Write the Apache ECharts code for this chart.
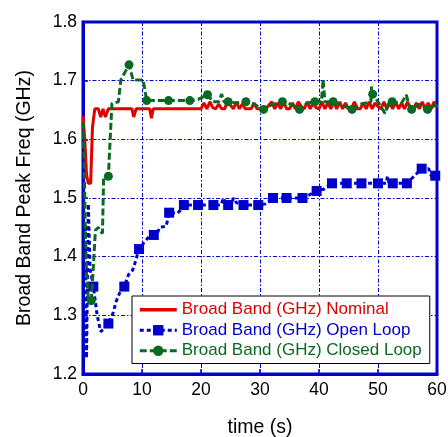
<!DOCTYPE html>
<html>
<head>
<meta charset="utf-8">
<script src="https://cdn.jsdelivr.net/npm/echarts@6/dist/echarts.min.js"></script>
<style>
  html, body { margin: 0; padding: 0; background: #ffffff; }
  #chart { width: 448px; height: 437px; }
</style>
</head>
<body>
<div id="chart"></div>
<script>
// Broad band peak frequency vs. time for three control modes

const xTicks = [0, 10, 20, 30, 40, 50, 60];
const yTicks = [1.2, 1.3, 1.4, 1.5, 1.6, 1.7, 1.8];

const seriesNames = [
  'Broad Band (GHz) Nominal',
  'Broad Band (GHz) Open Loop',
  'Broad Band (GHz) Closed Loop'
];

// Nominal (no markers)
const nominalT = [0.0, 0.3, 0.6, 0.9, 1.3, 1.6, 2.0, 2.6, 3.0, 3.4, 3.8, 4.3, 8.3, 8.6, 9.0, 11.3, 11.6, 11.9,
  20.0, 20.5, 21.0, 21.5, 22.0, 22.5, 23.0, 23.5, 24.0, 24.5, 25.0, 25.5, 26.0, 26.5, 27.0, 27.5, 28.0, 28.5,
  29.0, 29.5, 30.0, 30.5, 31.0, 31.5, 32.0, 32.5, 33.0, 33.5, 34.0, 34.5, 35.0, 35.5, 36.0, 36.5, 37.0, 37.5,
  38.0, 38.5, 39.0, 39.5, 40.0, 40.5, 41.0, 41.5, 42.0, 42.5, 43.0, 43.5, 44.0, 44.5, 45.0, 45.5, 46.0, 46.5,
  47.0, 47.5, 48.0, 48.5, 49.0, 49.5, 50.0, 50.5, 51.0, 51.5, 52.0, 52.5, 53.0, 53.5, 54.0, 54.5, 55.0, 55.5,
  56.0, 56.5, 57.0, 57.5, 58.0, 58.5, 59.0, 59.5, 60.0];
const nominalV = [1.640, 1.600, 1.540, 1.525, 1.525, 1.620, 1.652, 1.652, 1.638, 1.652, 1.638, 1.652, 1.652, 1.638, 1.652, 1.652, 1.636, 1.652,
  1.652, 1.662, 1.652, 1.664, 1.654, 1.652, 1.660, 1.652, 1.652, 1.664, 1.658, 1.652, 1.664, 1.652, 1.660, 1.652, 1.652, 1.652,
  1.662, 1.652, 1.652, 1.652, 1.652, 1.658, 1.664, 1.652, 1.662, 1.652, 1.664, 1.652, 1.652, 1.662, 1.652, 1.664, 1.656, 1.652,
  1.664, 1.652, 1.662, 1.654, 1.652, 1.664, 1.652, 1.662, 1.652, 1.664, 1.652, 1.664, 1.652, 1.662, 1.652, 1.652, 1.664, 1.652,
  1.652, 1.662, 1.652, 1.664, 1.652, 1.662, 1.656, 1.652, 1.664, 1.652, 1.662, 1.652, 1.664, 1.652, 1.662, 1.652, 1.664, 1.652,
  1.652, 1.662, 1.652, 1.664, 1.652, 1.662, 1.652, 1.664, 1.654];

// Open loop (1 = square marker drawn)
const openT = [0.4, 0.6, 0.9, 1.2, 1.75, 2.4, 3.0, 3.6, 4.3, 5.1, 5.6, 6.2, 7.0, 7.7, 8.4, 8.8, 9.5, 10.5, 11.2, 12.0,
  12.6, 13.0, 14.1, 14.6, 16.0, 16.7, 17.1, 18.3, 19.5, 20.8, 22.1, 23.4, 23.8, 24.2, 24.6, 25.2, 25.5, 26.0, 27.2,
  28.5, 29.7, 31.0, 31.5, 32.2, 34.5, 37.2, 38.3, 39.6, 40.8, 42.2, 44.7, 47.2, 50.0, 51.4, 51.6, 51.9, 52.5, 54.9,
  56.3, 57.4, 58.6, 59.0, 59.7];
const openV = [1.450, 1.227, 1.490, 1.380, 1.349, 1.300, 1.272, 1.278, 1.286, 1.304, 1.323, 1.338, 1.349, 1.369, 1.377, 1.389, 1.413, 1.426, 1.434, 1.437,
  1.440, 1.450, 1.452, 1.475, 1.474, 1.481, 1.488, 1.488, 1.488, 1.488, 1.488, 1.488, 1.500, 1.490, 1.488, 1.490, 1.500, 1.492, 1.488,
  1.488, 1.488, 1.490, 1.494, 1.500, 1.500, 1.500, 1.505, 1.512, 1.515, 1.525, 1.525, 1.525, 1.525, 1.525, 1.537, 1.525, 1.525, 1.525,
  1.539, 1.550, 1.550, 1.538, 1.538];
const openMarked = [0, 0, 0, 0, 1, 0, 0, 0, 1, 0, 0, 0, 1, 0, 0, 0, 1, 0, 0, 1,
  0, 0, 0, 1, 0, 0, 1, 0, 1, 0, 1, 0, 0, 0, 1, 0, 0, 0, 1,
  0, 1, 0, 0, 1, 1, 1, 0, 1, 0, 1, 1, 1, 1, 0, 0, 0, 1, 1,
  0, 1, 0, 0, 1];

// Closed loop (1 = circle marker drawn)
const closedT = [0.0, 0.2, 0.4, 0.6, 0.9, 1.4, 1.8, 2.1, 2.6, 2.9, 3.3, 3.5, 4.3, 4.9, 6.0, 6.4, 7.8, 8.5, 10.2, 10.8,
  12.6, 14.5, 16.3, 18.1, 19.5, 21.1, 22.0, 23.0, 23.5, 23.9, 24.6, 26.0, 27.6, 29.0, 30.6, 32.2, 33.8, 35.2, 36.7,
  38.0, 39.3, 40.4, 40.7, 41.0, 42.4, 44.0, 45.6, 47.0, 48.8, 48.9, 49.1, 50.0, 51.2, 51.7, 52.4, 54.0, 54.8, 55.2,
  55.7, 57.0, 58.4, 60.0];
const closedV = [1.630, 1.560, 1.450, 1.370, 1.330, 1.325, 1.390, 1.445, 1.450, 1.443, 1.440, 1.536, 1.537, 1.661, 1.664, 1.701, 1.727, 1.701, 1.701, 1.666,
  1.666, 1.666, 1.666, 1.666, 1.668, 1.676, 1.664, 1.664, 1.677, 1.664, 1.664, 1.662, 1.664, 1.660, 1.651, 1.660, 1.664, 1.660, 1.651,
  1.662, 1.664, 1.664, 1.702, 1.664, 1.664, 1.658, 1.651, 1.660, 1.664, 1.690, 1.677, 1.664, 1.644, 1.660, 1.664, 1.662, 1.676, 1.660,
  1.651, 1.660, 1.651, 1.660];
const closedMarked = [0, 0, 0, 0, 0, 1, 0, 0, 0, 0, 0, 0, 1, 0, 0, 0, 1, 0, 0, 1,
  0, 1, 0, 1, 0, 1, 0, 0, 0, 0, 1, 0, 1, 0, 1, 0, 1, 0, 1,
  0, 1, 0, 0, 0, 1, 0, 1, 0, 0, 0, 1, 0, 0, 0, 1, 0, 0, 0,
  1, 0, 1, 0];

const RED = '#e00000';
const BLUE = '#0000cc';
const GREEN = '#0b6a22';
const FONT = '"Liberation Sans", Arial, sans-serif';

function points(ts, vs, marks) {
  return ts.map((t, i) => (marks && marks[i])
    ? [t, vs[i]]
    : { value: [t, vs[i]], symbol: 'none' });
}

const chart = echarts.init(document.getElementById('chart'), null, { renderer: 'canvas' });

chart.setOption({
  animation: false,
  backgroundColor: '#ffffff',
  grid: {
    left: 83, right: 11, top: 22, bottom: 63,
    outerBoundsMode: 'none', containLabel: false,
    show: true, borderColor: BLUE, borderWidth: 3, backgroundColor: 'transparent'
  },
  xAxis: {
    type: 'value',
    min: xTicks[0], max: xTicks[xTicks.length - 1], interval: 10,
    name: 'time (s)', nameLocation: 'middle', nameGap: 44,
    nameTextStyle: { fontFamily: FONT, fontSize: 19.5, color: '#000' },
    axisLine: { show: true, onZero: false, lineStyle: { color: BLUE, width: 3 } },
    axisTick: { show: true, inside: true, length: 5, lineStyle: { color: BLUE, width: 1.5 } },
    axisLabel: { fontFamily: FONT, fontSize: 17.5, color: '#000', margin: 7 },
    splitLine: { show: true, lineStyle: { color: BLUE, width: 1, type: [4, 2, 1.5, 2] } }
  },
  yAxis: {
    type: 'value',
    min: yTicks[0], max: yTicks[yTicks.length - 1], interval: 0.1,
    name: 'Broad Band Peak Freq (GHz)', nameLocation: 'middle', nameGap: 48,
    nameTextStyle: { fontFamily: FONT, fontSize: 19.5, color: '#000' },
    axisLine: { show: true, onZero: false, lineStyle: { color: BLUE, width: 3 } },
    axisTick: { show: true, inside: true, length: 5, lineStyle: { color: BLUE, width: 1.5 } },
    axisLabel: { fontFamily: FONT, fontSize: 17.5, color: '#000', margin: 6,
      formatter: v => v.toFixed(1) },
    splitLine: { show: true, lineStyle: { color: BLUE, width: 1, type: [4, 2, 1.5, 2] } }
  },
  legend: {
    orient: 'vertical',
    left: 132, top: 296,
    padding: [4, 8, 3, 6],
    backgroundColor: '#ffffff',
    borderColor: '#000000', borderWidth: 1,
    itemWidth: 37, itemHeight: 13, itemGap: 1,
    textStyle: { fontFamily: FONT, fontSize: 17, lineHeight: 19.5 },
    data: [
      { name: seriesNames[0], itemStyle: { color: 'transparent', borderWidth: 0 },
        lineStyle: { width: 3.5, color: RED, type: 'solid' }, textStyle: { color: RED } },
      { name: seriesNames[1], lineStyle: { width: 3 }, textStyle: { color: BLUE } },
      { name: seriesNames[2], lineStyle: { width: 3 }, textStyle: { color: GREEN } }
    ]
  },
  series: [
    {
      name: seriesNames[0], type: 'line',
      data: points(nominalT, nominalV, null),
      symbol: 'none', showSymbol: false,
      lineStyle: { color: RED, width: 3 },
      itemStyle: { color: RED },
      z: 2
    },
    {
      name: seriesNames[1], type: 'line',
      data: points(openT, openV, openMarked),
      symbol: 'rect', symbolSize: 10, showAllSymbol: true,
      lineStyle: { color: BLUE, width: 3, type: [4, 3] },
      itemStyle: { color: BLUE },
      z: 3
    },
    {
      name: seriesNames[2], type: 'line',
      data: points(closedT, closedV, closedMarked),
      symbol: 'circle', symbolSize: 9, showAllSymbol: true,
      lineStyle: { color: GREEN, width: 3, type: [7, 3] },
      itemStyle: { color: GREEN },
      z: 4
    }
  ]
});
</script>
</body>
</html>
